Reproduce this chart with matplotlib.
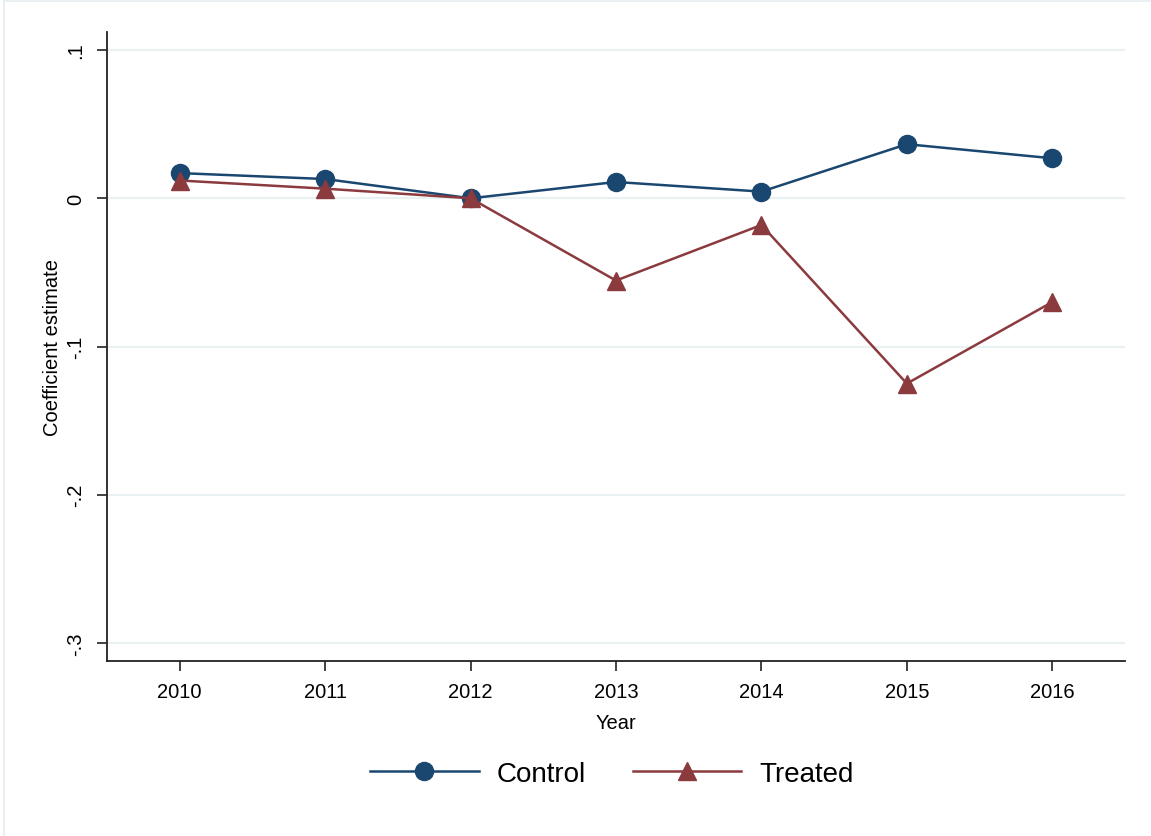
import numpy as np
import matplotlib.pyplot as plt
from matplotlib.lines import Line2D

years = [2010, 2011, 2012, 2013, 2014, 2015, 2016]
control = [0.017, 0.013, 0.0, 0.011, 0.0045, 0.0365, 0.027]
treated = [0.012, 0.0065, 0.0, -0.0555, -0.018, -0.125, -0.070]
ytick_vals = [0.1, 0.0, -0.1, -0.2, -0.3]
ytick_labels = ['.1', '0', '-.1', '-.2', '-.3']

navy = '#1A476F'
maroon = '#8B3A3E'
grid_col = '#EAF1F3'

plt.rcParams['font.family'] = ['Liberation Sans', 'DejaVu Sans']

fig = plt.figure(figsize=(11.51, 8.37), dpi=100)
ax = fig.add_axes([107/1151, 1 - 662/837, (1125 - 107)/1151, (662 - 33)/837])

# faint outer border (top and left only, as in the screenshot)
fig.add_artist(Line2D([4/1151, 1], [1 - 2/837, 1 - 2/837], color='#E6EEF0', lw=1.2))
fig.add_artist(Line2D([4/1151, 4/1151], [0, 1 - 2/837], color='#E6EEF0', lw=1.2))

for v in ytick_vals:
    ax.axhline(v, color=grid_col, lw=1.6, zorder=0)

ax.plot(years, control, color=navy, lw=1.8, marker='o', markersize=13,
        label='Control', zorder=3)
ax.plot(years, treated, color=maroon, lw=1.8, marker='^', markersize=13,
        label='Treated', zorder=3)

ax.set_xlim(2009.5, 2016.5)
ax.set_ylim(-0.3122, 0.1122)
ax.set_xticks(years)
ax.set_xticklabels([str(y) for y in years], fontsize=14.5)
ax.set_yticks(ytick_vals)
ax.set_yticklabels(ytick_labels, fontsize=14.5, rotation=90, va='center')
ax.tick_params(axis='both', length=7, width=1.2, color='#222222', pad=8)
ax.tick_params(axis='y', pad=9)

for s in ['top', 'right']:
    ax.spines[s].set_visible(False)
for s in ['left', 'bottom']:
    ax.spines[s].set_linewidth(1.3)
    ax.spines[s].set_color('#222222')

ax.set_xlabel('Year', fontsize=14.5, labelpad=9)
ax.set_ylabel('Coefficient estimate', fontsize=14.5, labelpad=3)

fig.legend(loc='center', bbox_to_anchor=(612/1151, 1 - 775/837), ncol=2,
           frameon=False, fontsize=20, handlelength=3.9, handletextpad=0.65,
           columnspacing=1.7)

fig.savefig('out.png', dpi=100, facecolor='white')
